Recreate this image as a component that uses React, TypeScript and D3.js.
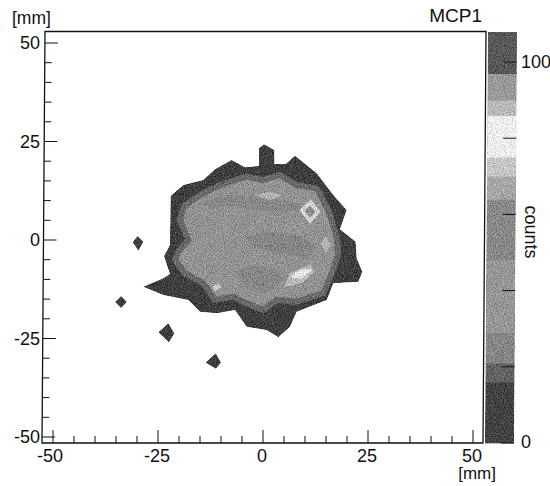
import React from "react";
import * as d3 from "d3";

const W = 550, H = 486;
const xTicks = d3.range(-50, 51, 5);
const yTicks = d3.range(-50, 51, 5);
const xLabels = [-50, -25, 0, 25, 50];
const yLabels = [-50, -25, 0, 25, 50];
const zTicks = [0, 20, 40, 60, 80, 100];
const zLabels = [0, 100];

type P = [number, number];
const outer: P[] = [[-28.5,-11.84],[-23.73,-9.73],[-22.15,-8.63],[-23.57,-4.06],[-22.15,-1.27],[-21.99,11.17],[-18.97,13.96],[-14.21,15.23],[-11.43,17.94],[-7.46,20.31],[-4.29,18.44],[-0.95,18.78],[-0.95,23.27],[0.24,24.28],[2.7,22.84],[2.7,19.29],[5.4,19.29],[7.62,21.41],[12.78,16.92],[16.74,11.42],[19.92,7.62],[18.33,2.71],[22.06,-0.42],[22.3,-4.65],[23.65,-8.04],[22.7,-10.57],[16.74,-11],[15.16,-15.2],[8.02,-18.2],[6.43,-22],[3.65,-24.7],[0.87,-22.84],[-3.9,-22],[-6.67,-17.77],[-11.03,-18.6],[-15,-18.2],[-17.78,-15.2],[-23.73,-13.96]];
const islandA: P[] = [[-29.84,1],[-28.5,-0.42],[-29.68,-2.71],[-31.03,-0.59]];
const islandB: P[] = [[-33.8,-14.2],[-32.4,-15.74],[-33.8,-17.27],[-35.2,-15.74]];
const islandC: P[] = [[-22.54,-21.15],[-21.1,-23.7],[-22.4,-25.97],[-24.9,-23.4]];
const islandD: P[] = [[-11.27,-28.76],[-10,-31.1],[-11.2,-32.66],[-13.65,-31.1]];
const inner: P[] = [[-20.16,-2.96],[-17.78,0],[-19.76,5.08],[-18.97,8.46],[-15,11.42],[-10.24,13.96],[-3.89,16.08],[0.08,15.23],[4.05,16.5],[8.02,13.96],[12.78,13.1],[15.55,7.62],[17.54,0.85],[17.93,-3.38],[16.74,-7.6],[14.36,-13.5],[8.02,-15.65],[3.25,-15.2],[0.08,-17.77],[-3.89,-16.07],[-7.07,-14.38],[-11.43,-15.2],[-14.21,-11],[-18.57,-8.46],[-20.95,-5.07]];
const patchUpper: P[] = [[-14.2,9.7],[-7.07,11.4],[-0.72,10.6],[7.2,9.7],[9.6,8.04],[5.6,7.2],[-0.72,7.6],[-7.07,8.9],[-12.6,8.04]];
const patchMiddle: P[] = [[-3.9,0.42],[0.87,2.1],[8.8,0.85],[12.8,-1.7],[10.4,-4.65],[4.05,-3.4],[-2.3,-1.7]];
const patchLower: P[] = [[-6.3,-8.04],[-2.3,-6.8],[3.25,-7.6],[4.84,-10.15],[0.87,-13.5],[-3.9,-11.84]];
const lightTop: P[] = [[-1.1,11.4],[1.66,12.1],[4.44,11.4],[1.66,10.15]];
const ringOuter: P[] = [[11.4,10.15],[13.6,7.2],[11.2,4.23],[8.8,7.6]];
const ringInner: P[] = [[11.2,8.63],[12.4,7.2],[11.2,5.76],[10,7.45]];
const lightRight: P[] = [[14.92,0.85],[15.95,-1.27],[15,-2.96],[13.97,-0.85]];
const blobHalo: P[] = [[5.24,-11.84],[6.43,-8.46],[11.2,-6.34],[12.14,-8.04],[9.6,-10.6]];
const blobCore: P[] = [[6.8,-9.3],[8.8,-7.6],[11.6,-7.6],[9.2,-9.73]];
const lightSmall: P[] = [[-11.83,-11.84],[-10.6,-11.2],[-10.08,-12],[-11.43,-12.86]];

const bandEdges = [0, 16, 21, 29, 48, 64, 70, 75, 86, 90, 97, 108];
const bandGrays = ["#424242", "#626262", "#858585", "#969696", "#888888", "#a6a6a6", "#c6c6c6", "#eeeeee", "#b8b8b8", "#999999", "#585858"];

const xScale = d3.scaleLinear().domain([-50, 50]).range([53, 473]);
const yScale = d3.scaleLinear().domain([-50, 50]).range([437, 43]);
const zScale = d3.scaleLinear().domain([0, 100]).range([443, 62]);
const line = d3.line<P>().x(d => xScale(d[0])).y(d => yScale(d[1])).curve(d3.curveLinearClosed);
// the scanned page leans about 3px from bottom to top
const lean = d3.scaleLinear().domain([443, 31]).range([0, 3]);

const font = "'Liberation Sans', Arial, sans-serif";
const ink = "#111";

export default function App() {
  const fills: [P[], string][] = [
    [patchUpper, "#878787"], [patchMiddle, "#858585"], [patchLower, "#878787"],
    [lightTop, "#b4b4b4"], [ringOuter, "#d4d4d4"], [ringInner, "#8f8f8f"], [lightRight, "#b8b8b8"],
    [blobHalo, "#b8b8b8"], [blobCore, "#e6e6e6"], [lightSmall, "#cccccc"],
  ];
  return (
    <svg width={W} height={H} style={{ position: "absolute", left: 0, top: 0, background: "#fff" }}>
      <defs>
        <filter id="grain" x="-2%" y="-2%" width="104%" height="104%" colorInterpolationFilters="sRGB">
          <feGaussianBlur in="SourceGraphic" stdDeviation={0.7} result="b" />
          <feTurbulence type="fractalNoise" baseFrequency="1.1" numOctaves={1} seed={4} result="n" />
          <feColorMatrix in="n" type="matrix" values="0 0 0 2 -0.5  0 0 0 2 -0.5  0 0 0 2 -0.5  0 0 0 0 1" result="g" />
          <feComposite in="b" in2="g" operator="arithmetic" k1={0} k2={1} k3={0.3} k4={-0.15} result="c" />
          <feComposite in="c" in2="SourceGraphic" operator="in" />
        </filter>
      </defs>

      <g filter="url(#grain)">
        {[outer, islandA, islandB, islandC, islandD].map((p, i) => (
          <path key={i} d={line(p)!} fill="#3e3e3e" />
        ))}
        <path d={line(inner)!} fill="#929292" stroke="#686868" strokeWidth={6} strokeLinejoin="round" />
        {fills.map(([p, c], i) => (
          <path key={i} d={line(p)!} fill={c} stroke={c} strokeWidth={1} />
        ))}
      </g>

      <g filter="url(#grain)">
        {bandGrays.map((c, i) => {
          const y0 = Math.min(zScale(bandEdges[i]), 444);
          const y1 = Math.max(zScale(bandEdges[i + 1]), 32);
          const xl = (y: number) => 485 + lean(y);
          const xr = (y: number) => 514 + lean(y);
          return (
            <polygon
              key={i}
              points={`${xl(y0)},${y0 + 0.5} ${xr(y0)},${y0 + 0.5} ${xr(y1)},${y1} ${xl(y1)},${y1}`}
              fill={c}
            />
          );
        })}
      </g>

      <polygon
        points={`${42 + lean(31)},31.5 ${483 + lean(31)},31.5 483,443 42,443`}
        fill="none"
        stroke={ink}
        strokeWidth={1.3}
      />

      {xTicks.map(t => {
        const major = t % 25 === 0;
        return <line key={t} x1={xScale(t)} x2={xScale(t)} y1={443} y2={major ? 430 : 436} stroke={ink} strokeWidth={1} />;
      })}
      {yTicks.map(t => {
        const major = t % 25 === 0;
        const y = yScale(t);
        const x0 = 42 + lean(y);
        return <line key={t} x1={x0} x2={x0 + (major ? 13 : 7)} y1={y} y2={y} stroke={ink} strokeWidth={1} />;
      })}
      {zTicks.map(t => {
        const y = zScale(t);
        const x1 = 514 + lean(y);
        return <line key={t} x1={x1 - 13} x2={x1} y1={y} y2={y} stroke={ink} strokeWidth={1} />;
      })}

      <g fontFamily={font} fontSize={18} fill={ink}>
        {xLabels.map(t => (
          <text key={t} x={t === -50 ? 50 : xScale(t) - 1} y={462} textAnchor="middle">{t}</text>
        ))}
        {yLabels.map(t => (
          <text key={t} x={40} y={yScale(t) + 6} textAnchor="end">{t}</text>
        ))}
        {zLabels.map(t => (
          <text key={t} x={521} y={t === 0 ? 448 : 68}>{t}</text>
        ))}
        <text x={482} y={22} fontSize={19} textAnchor="end">MCP1</text>
        <text x={12} y={24} fontSize={17.5}>[mm]</text>
        <text x={496} y={479} fontSize={17} textAnchor="end">[mm]</text>
        <text transform="translate(525,232) rotate(90)" textAnchor="middle">counts</text>
      </g>
    </svg>
  );
}
